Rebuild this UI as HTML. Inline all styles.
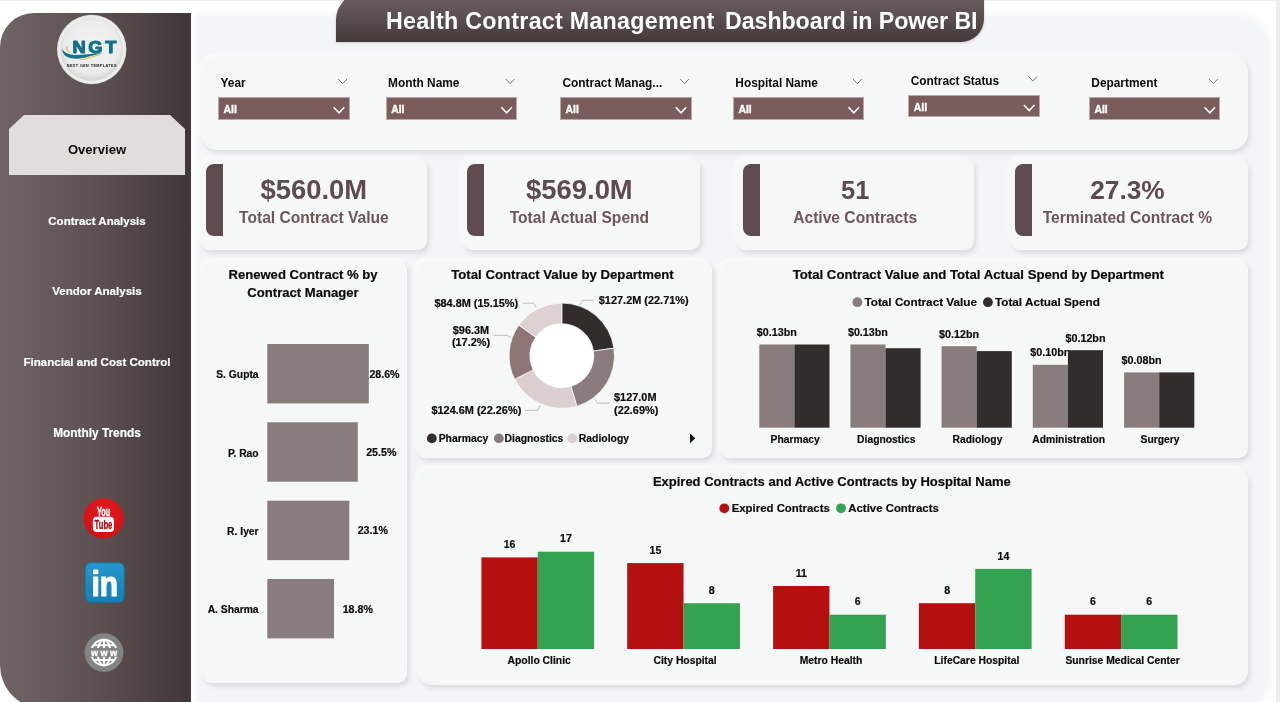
<!DOCTYPE html>
<html lang="en">
<head>
<meta charset="utf-8">
<title>Health Contract Management Dashboard in Power BI</title>
<style>
*{box-sizing:border-box;margin:0;padding:0}
html,body{width:1280px;height:702px;overflow:hidden;background:#fff}
body{font-family:"Liberation Sans",sans-serif;font-weight:bold;color:#1f1c1c;position:relative}
.abs{position:absolute}
#main{left:200px;top:18px;width:1067px;height:692px;background:#f4f5f7;border-top-right-radius:30px;border-bottom-right-radius:34px;box-shadow:0 0 6px 4px #f4f5f7}
#side{left:0;top:13px;width:191.4px;height:696px;background:linear-gradient(90deg,#6f6363 0%,#5e5151 48%,#403637 100%);border-top-left-radius:34px;border-bottom-left-radius:44px}
#tab{left:9px;top:115px;width:176px;height:60px;background:#e1dddd;clip-path:polygon(15px 0,161px 0,176px 14px,176px 60px,0 60px,0 14px)}
.nav{left:0;width:194px;text-align:center;color:#fff;font-size:11.55px;line-height:14px;white-space:nowrap;-webkit-text-stroke:0.2px #fff}
#banner{left:336px;top:-8px;width:648px;height:49.5px;background:linear-gradient(180deg,#6f6161 0%,#5c4f4f 50%,#433839 100%);border-top-left-radius:28px;border-bottom-right-radius:23px;box-shadow:0 1px 3px rgba(0,0,0,.18)}
#banner h1{position:absolute;left:49.9px;top:15.2px;font-size:23.25px;line-height:28px;color:#fff;white-space:pre;font-weight:bold}
.panel{background:#f6f7f7;box-shadow:2px 3px 5px rgba(70,70,80,.15),-2px -2px 4px rgba(255,255,255,.8)}
.kpi{top:159px;height:90.5px;border-radius:9px}
.kpi i{position:absolute;left:4.6px;top:5.3px;width:17.6px;height:72px;background:#5d4b50;border-radius:8px 0 0 8px}
.kpi b{position:absolute;left:0;width:100%;text-align:center;color:#5d4b50;white-space:nowrap}
.kpi .v{top:16.3px;font-size:27.4px;line-height:30px}
.kpi .l{top:48.5px;font-size:15.6px;line-height:20px;color:#6e5657}
.flt label{position:absolute;font-size:11.9px;line-height:14px;color:#0b0a0a;white-space:nowrap}
.dd{position:absolute;width:131.6px;height:22.3px;background:#7b5c5d;border:1px solid #b9aaaa;color:#fff;font-size:10.4px;line-height:24.4px;padding-left:4.6px;-webkit-text-stroke:0.35px #fff}
svg text{font-family:"Liberation Sans",sans-serif;font-weight:bold}
svg .t{stroke:#0b0a0a;stroke-width:0.18px}
</style>
</head>
<body>

<div id="main" class="abs"></div>
<div class="abs" style="left:1276px;top:0;width:4px;height:702px;background:#ededed"></div>
<div class="abs" style="left:0;top:0;width:1280px;height:1px;background:#eeeeee"></div>
<div id="side" class="abs"></div>
<div id="tab" class="abs"></div>
<div class="abs" style="left:0;top:142px;width:194px;text-align:center;font-size:13.1px;line-height:16px;color:#0d0c0c">Overview</div>
<div class="abs nav" style="top:213.8px;font-size:11.5px">Contract Analysis</div>
<div class="abs nav" style="top:283.8px;font-size:11.55px">Vendor Analysis</div>
<div class="abs nav" style="top:355.0px;font-size:11.57px">Financial and Cost Control</div>
<div class="abs nav" style="top:425.9px;font-size:11.87px">Monthly Trends</div>
<div id="banner" class="abs"><h1><span style="letter-spacing:0.27px">Health Contract Management&nbsp; </span><span style="letter-spacing:-0.1px;margin-left:-3px">Dashboard in Power BI</span></h1></div>
<div class="abs panel flt" style="left:201px;top:55.7px;width:1046.5px;height:94.1px;border-radius:17px">
<label style="left:19.5px;top:20.6px">Year</label>
<div class="dd" style="left:17.0px;top:41.7px">All</div>
<label style="left:187.1px;top:20.6px">Month Name</label>
<div class="dd" style="left:184.6px;top:41.7px">All</div>
<label style="left:361.5px;top:20.6px">Contract Manag...</label>
<div class="dd" style="left:359.0px;top:41.7px">All</div>
<label style="left:534.3px;top:20.6px">Hospital Name</label>
<div class="dd" style="left:531.8px;top:41.7px">All</div>
<label style="left:709.7px;top:18.0px">Contract Status</label>
<div class="dd" style="left:707.2px;top:39.5px">All</div>
<label style="left:890.3px;top:20.6px">Department</label>
<div class="dd" style="left:887.8px;top:41.7px">All</div>
</div>
<div class="abs panel kpi" style="left:201.2px;width:225.4px"><i style="left:4.6px"></i><b class="v" style="font-size:27.4px;left:0px">$560.0M</b><b class="l" style="left:0px">Total Contract Value</b></div>
<div class="abs panel kpi" style="left:463.2px;width:237px"><i style="left:3.5px"></i><b class="v" style="font-size:27.4px;left:-2.3px">$569.0M</b><b class="l" style="left:-2.3px">Total Actual Spend</b></div>
<div class="abs panel kpi" style="left:737.3px;width:236.6px"><i style="left:5.5px"></i><b class="v" style="font-size:25.5px;left:-0.4px">51</b><b class="l" style="left:-0.4px">Active Contracts</b></div>
<div class="abs panel kpi" style="left:1011.2px;width:236.6px"><i style="left:3.4px"></i><b class="v" style="font-size:26.3px;left:-2px">27.3%</b><b class="l" style="left:-2px">Terminated Contract %</b></div>
<div class="abs panel" style="left:202.5px;top:260.5px;width:204.7px;height:422.5px;border-radius:9px"></div>
<div class="abs panel" style="left:416.5px;top:260.8px;width:295.3px;height:197.6px;border-radius:9px"></div>
<div class="abs panel" style="left:721px;top:260.8px;width:526.6px;height:197.6px;border-radius:9px"></div>
<div class="abs panel" style="left:417.8px;top:467.6px;width:829.8px;height:217.2px;border-radius:14px"></div>
<svg class="abs" style="left:0;top:0" width="1280" height="702" viewBox="0 0 1280 702">
<defs>
<radialGradient id="lg" cx="50%" cy="45%" r="55%"><stop offset="0" stop-color="#f4f4f4"/><stop offset="0.8" stop-color="#ebebeb"/><stop offset="1" stop-color="#d4d4d4"/></radialGradient>
<linearGradient id="li" x1="0" y1="0" x2="0" y2="1"><stop offset="0" stop-color="#2497cf"/><stop offset="1" stop-color="#157fb3"/></linearGradient>
<radialGradient id="yt" cx="50%" cy="35%" r="70%"><stop offset="0" stop-color="#e41a1f"/><stop offset="1" stop-color="#d20f14"/></radialGradient>
</defs>
<circle cx="91.7" cy="49.5" r="34.7" fill="#e2e2e2"/>
<circle cx="91.7" cy="49.5" r="33.6" fill="#efefef"/>
<circle cx="91.7" cy="49.5" r="31.2" fill="url(#lg)" stroke="#dcdcdc" stroke-width="0.7"/>
<path d="M62.3 48.6 C63.6 52.2 67.5 54.6 73.5 54.9 C82 55.3 92 53 103.6 53.2 C95.5 54 88.5 57.4 79.5 58.6 C69.5 59.8 62 56.4 62.3 48.6Z" fill="#12758a"/>
<path d="M66.4 46 C65.2 49.4 67.6 52.4 71.6 53.6 C68.8 51.6 67 49.2 67.4 46.2Z" fill="#e3b75c"/>
<path d="M79 60 C87 59.6 93.5 56.4 100.6 54.6 C93.8 55.6 87.4 58.8 79 60Z" fill="#e3b75c" stroke="#e3b75c" stroke-width="0.5"/>
<text transform="scale(1.1,1)" x="65.9 80.3 95.7" y="52.6" font-size="16.6" fill="#12718a" stroke="#12718a" stroke-width="1.1" stroke-linejoin="round">NGT</text>
<text x="91.8" y="66.7" font-size="3.7" text-anchor="middle" fill="#111" letter-spacing="0.45">NEXT GEN TEMPLATES</text>
<path d="M338.2 79.0 L342.6 83.6 L347.0 79.0" fill="none" stroke="#7a7a7a" stroke-width="1"/>
<path d="M333.7 107.2 L339.0 112.8 L344.3 107.2" fill="none" stroke="#fff" stroke-width="1.5"/>
<path d="M505.8 79.0 L510.2 83.6 L514.6 79.0" fill="none" stroke="#7a7a7a" stroke-width="1"/>
<path d="M501.3 107.2 L506.6 112.8 L511.9 107.2" fill="none" stroke="#fff" stroke-width="1.5"/>
<path d="M680.2 79.0 L684.6 83.6 L689.0 79.0" fill="none" stroke="#7a7a7a" stroke-width="1"/>
<path d="M675.7 107.2 L681.0 112.8 L686.3 107.2" fill="none" stroke="#fff" stroke-width="1.5"/>
<path d="M853.0 79.0 L857.4 83.6 L861.8 79.0" fill="none" stroke="#7a7a7a" stroke-width="1"/>
<path d="M848.5 107.2 L853.8 112.8 L859.1 107.2" fill="none" stroke="#fff" stroke-width="1.5"/>
<path d="M1028.4 76.4 L1032.8 81.0 L1037.2 76.4" fill="none" stroke="#7a7a7a" stroke-width="1"/>
<path d="M1023.9 105.0 L1029.2 110.6 L1034.5 105.0" fill="none" stroke="#fff" stroke-width="1.5"/>
<path d="M1209.0 79.0 L1213.4 83.6 L1217.8 79.0" fill="none" stroke="#7a7a7a" stroke-width="1"/>
<path d="M1204.5 107.2 L1209.8 112.8 L1215.1 107.2" fill="none" stroke="#fff" stroke-width="1.5"/>
<text class="t" x="303.0" y="279.0" font-size="13.1" text-anchor="middle" fill="#0b0a0a" >Renewed Contract % by</text>
<text class="t" x="303.0" y="296.5" font-size="13.1" text-anchor="middle" fill="#0b0a0a" >Contract Manager</text>
<rect x="267.3" y="344" width="101.5" height="59.4" fill="#897c7c"/>
<text class="t" x="258.6" y="378.2" font-size="10.3" text-anchor="end" fill="#0b0a0a" >S. Gupta</text>
<text class="t" x="369.4" y="377.6" font-size="10.65" text-anchor="start" fill="#0b0a0a" >28.6%</text>
<rect x="267.3" y="422.3" width="90.5" height="59.4" fill="#897c7c"/>
<text class="t" x="258.6" y="456.5" font-size="10.3" text-anchor="end" fill="#0b0a0a" >P. Rao</text>
<text class="t" x="366.2" y="455.9" font-size="10.65" text-anchor="start" fill="#0b0a0a" >25.5%</text>
<rect x="267.3" y="500.7" width="82.0" height="59.4" fill="#897c7c"/>
<text class="t" x="258.6" y="534.9" font-size="10.3" text-anchor="end" fill="#0b0a0a" >R. Iyer</text>
<text class="t" x="357.7" y="534.3" font-size="10.65" text-anchor="start" fill="#0b0a0a" >23.1%</text>
<rect x="267.3" y="579" width="66.7" height="59.4" fill="#897c7c"/>
<text class="t" x="258.6" y="613.2" font-size="10.3" text-anchor="end" fill="#0b0a0a" >A. Sharma</text>
<text class="t" x="342.7" y="612.6" font-size="10.65" text-anchor="start" fill="#0b0a0a" >18.8%</text>
<text class="t" x="562.5" y="278.8" font-size="13.2" text-anchor="middle" fill="#0b0a0a" >Total Contract Value by Department</text>
<circle cx="561.8" cy="355.7" r="52.7" fill="#fff"/>
<path d="M561.80 303.00 A52.7 52.7 0 0 1 613.95 348.14 L593.47 351.11 A32 32 0 0 0 561.80 323.70Z" fill="#322d2d" stroke="#fff" stroke-width="0.7"/>
<path d="M613.95 348.14 A52.7 52.7 0 0 1 576.83 406.21 L570.93 386.37 A32 32 0 0 0 593.47 351.11Z" fill="#8a7c7c" stroke="#fff" stroke-width="0.7"/>
<path d="M576.83 406.21 A52.7 52.7 0 0 1 514.62 379.17 L533.15 369.95 A32 32 0 0 0 570.93 386.37Z" fill="#dccfcf" stroke="#fff" stroke-width="0.7"/>
<path d="M514.62 379.17 A52.7 52.7 0 0 1 518.88 325.12 L535.74 337.13 A32 32 0 0 0 533.15 369.95Z" fill="#8e7677" stroke="#fff" stroke-width="0.7"/>
<path d="M518.88 325.12 A52.7 52.7 0 0 1 561.80 303.00 L561.80 323.70 A32 32 0 0 0 535.74 337.13Z" fill="#ddd1d1" stroke="#fff" stroke-width="0.7"/>
<path d="M579.8 305 L582.5 300.3 L593.6 300.3" fill="none" stroke="#bcbcbc" stroke-width="1"/>
<path d="M594.2 398.5 L597.6 403.1 L609.6 403.1" fill="none" stroke="#bcbcbc" stroke-width="1"/>
<path d="M540 405.2 L537.8 410.4 L525 410.4" fill="none" stroke="#bcbcbc" stroke-width="1"/>
<path d="M511 337.5 L507 335.3 L493.5 335.3" fill="none" stroke="#bcbcbc" stroke-width="1"/>
<path d="M536.6 307.5 L533.3 303.2 L522.4 303.2" fill="none" stroke="#bcbcbc" stroke-width="1"/>
<text class="t" x="598.8" y="304.3" font-size="10.93" text-anchor="start" fill="#0b0a0a" >$127.2M (22.71%)</text>
<text class="t" x="614.0" y="400.8" font-size="10.93" text-anchor="start" fill="#0b0a0a" >$127.0M</text>
<text class="t" x="614.0" y="413.9" font-size="10.93" text-anchor="start" fill="#0b0a0a" >(22.69%)</text>
<text class="t" x="521.3" y="414.4" font-size="10.93" text-anchor="end" fill="#0b0a0a" >$124.6M (22.26%)</text>
<text class="t" x="471.0" y="333.6" font-size="10.93" text-anchor="middle" fill="#0b0a0a" >$96.3M</text>
<text class="t" x="471.0" y="346.4" font-size="10.93" text-anchor="middle" fill="#0b0a0a" >(17.2%)</text>
<text class="t" x="518.2" y="307.2" font-size="10.93" text-anchor="end" fill="#0b0a0a" >$84.8M (15.15%)</text>
<circle cx="431.8" cy="438.4" r="4.9" fill="#322d2d"/>
<text class="t" x="438.7" y="441.8" font-size="10.4" text-anchor="start" fill="#0b0a0a" >Pharmacy</text>
<circle cx="498.9" cy="438.4" r="4.9" fill="#8a7c7c"/>
<text class="t" x="504.5" y="441.8" font-size="10.4" text-anchor="start" fill="#0b0a0a" >Diagnostics</text>
<circle cx="572.2" cy="438.4" r="4.9" fill="#dccfcf"/>
<text class="t" x="578.8" y="441.8" font-size="10.4" text-anchor="start" fill="#0b0a0a" >Radiology</text>
<path d="M690 433.4 L695.3 438.3 L690 443.2Z" fill="#151313"/>
<text class="t" x="978.3" y="278.8" font-size="13.2" text-anchor="middle" fill="#0b0a0a" >Total Contract Value and Total Actual Spend by Department</text>
<circle cx="857.4" cy="302.2" r="4.9" fill="#897c7c"/>
<text class="t" x="864.5" y="306.2" font-size="11.72" text-anchor="start" fill="#0b0a0a" >Total Contract Value</text>
<circle cx="987.9" cy="302.2" r="4.9" fill="#322d2d"/>
<text class="t" x="995.0" y="306.2" font-size="11.72" text-anchor="start" fill="#0b0a0a" >Total Actual Spend</text>
<text class="t" x="776.8" y="336.1" font-size="10.74" text-anchor="middle" fill="#0b0a0a" >$0.13bn</text>
<rect x="759.3" y="344.5" width="35.1" height="83.2" fill="#897c7c"/>
<rect x="794.4" y="344.5" width="35.1" height="83.2" fill="#322d2d"/>
<text class="t" x="795.2" y="443.0" font-size="10.3" text-anchor="middle" fill="#0b0a0a" >Pharmacy</text>
<text class="t" x="867.9" y="336.1" font-size="10.74" text-anchor="middle" fill="#0b0a0a" >$0.13bn</text>
<rect x="850.4" y="344.5" width="35.1" height="83.2" fill="#897c7c"/>
<rect x="885.5" y="348.2" width="35.1" height="79.5" fill="#322d2d"/>
<text class="t" x="886.3" y="443.0" font-size="10.3" text-anchor="middle" fill="#0b0a0a" >Diagnostics</text>
<text class="t" x="959.1" y="337.8" font-size="10.74" text-anchor="middle" fill="#0b0a0a" >$0.12bn</text>
<rect x="941.6" y="346.2" width="35.1" height="81.5" fill="#897c7c"/>
<rect x="976.7" y="351.1" width="35.1" height="76.6" fill="#322d2d"/>
<text class="t" x="977.5" y="443.0" font-size="10.3" text-anchor="middle" fill="#0b0a0a" >Radiology</text>
<text class="t" x="1050.3" y="356.4" font-size="10.74" text-anchor="middle" fill="#0b0a0a" >$0.10bn</text>
<rect x="1032.8" y="364.8" width="35.1" height="62.9" fill="#897c7c"/>
<rect x="1067.8999999999999" y="350.2" width="35.1" height="77.5" fill="#322d2d"/>
<text class="t" x="1085.5" y="341.6" font-size="10.74" text-anchor="middle" fill="#0b0a0a" >$0.12bn</text>
<text class="t" x="1068.7" y="443.0" font-size="10.3" text-anchor="middle" fill="#0b0a0a" >Administration</text>
<text class="t" x="1141.6" y="364.0" font-size="10.74" text-anchor="middle" fill="#0b0a0a" >$0.08bn</text>
<rect x="1124.1" y="372.4" width="35.1" height="55.3" fill="#897c7c"/>
<rect x="1159.1999999999998" y="372.4" width="35.1" height="55.3" fill="#322d2d"/>
<text class="t" x="1160.0" y="443.0" font-size="10.3" text-anchor="middle" fill="#0b0a0a" >Surgery</text>
<text class="t" x="831.8" y="486.3" font-size="13.0" text-anchor="middle" fill="#0b0a0a" >Expired Contracts and Active Contracts by Hospital Name</text>
<circle cx="724.3" cy="508.3" r="4.9" fill="#b51010"/>
<text class="t" x="731.7" y="512.3" font-size="11.4" text-anchor="start" fill="#0b0a0a" >Expired Contracts</text>
<circle cx="841" cy="508.3" r="4.9" fill="#33a351"/>
<text class="t" x="848.3" y="512.3" font-size="11.4" text-anchor="start" fill="#0b0a0a" >Active Contracts</text>
<rect x="481.4" y="557.4" width="56.35" height="91.6" fill="#b51010"/>
<rect x="537.75" y="551.7" width="56.35" height="97.3" fill="#33a351"/>
<text class="t" x="509.6" y="548.1" font-size="10.6" text-anchor="middle" fill="#0b0a0a" >16</text>
<text class="t" x="565.9" y="542.4" font-size="10.6" text-anchor="middle" fill="#0b0a0a" >17</text>
<text class="t" x="539.2" y="664.0" font-size="10.35" text-anchor="middle" fill="#0b0a0a" >Apollo Clinic</text>
<rect x="627.2" y="563.1" width="56.35" height="85.9" fill="#b51010"/>
<rect x="683.5500000000001" y="603.2" width="56.35" height="45.8" fill="#33a351"/>
<text class="t" x="655.4" y="553.8" font-size="10.6" text-anchor="middle" fill="#0b0a0a" >15</text>
<text class="t" x="711.7" y="593.9" font-size="10.6" text-anchor="middle" fill="#0b0a0a" >8</text>
<text class="t" x="685.1" y="664.0" font-size="10.35" text-anchor="middle" fill="#0b0a0a" >City Hospital</text>
<rect x="773.1" y="586.0" width="56.35" height="63.0" fill="#b51010"/>
<rect x="829.45" y="614.7" width="56.35" height="34.3" fill="#33a351"/>
<text class="t" x="801.3" y="576.7" font-size="10.6" text-anchor="middle" fill="#0b0a0a" >11</text>
<text class="t" x="857.6" y="605.4" font-size="10.6" text-anchor="middle" fill="#0b0a0a" >6</text>
<text class="t" x="831.0" y="664.0" font-size="10.35" text-anchor="middle" fill="#0b0a0a" >Metro Health</text>
<rect x="918.9" y="603.2" width="56.35" height="45.8" fill="#b51010"/>
<rect x="975.25" y="568.9" width="56.35" height="80.1" fill="#33a351"/>
<text class="t" x="947.1" y="593.9" font-size="10.6" text-anchor="middle" fill="#0b0a0a" >8</text>
<text class="t" x="1003.4" y="559.6" font-size="10.6" text-anchor="middle" fill="#0b0a0a" >14</text>
<text class="t" x="976.8" y="664.0" font-size="10.35" text-anchor="middle" fill="#0b0a0a" >LifeCare Hospital</text>
<rect x="1064.8" y="614.7" width="56.35" height="34.3" fill="#b51010"/>
<rect x="1121.1499999999999" y="614.7" width="56.35" height="34.3" fill="#33a351"/>
<text class="t" x="1093.0" y="605.4" font-size="10.6" text-anchor="middle" fill="#0b0a0a" >6</text>
<text class="t" x="1149.3" y="605.4" font-size="10.6" text-anchor="middle" fill="#0b0a0a" >6</text>
<text class="t" x="1122.6" y="664.0" font-size="10.35" text-anchor="middle" fill="#0b0a0a" >Sunrise Medical Center</text>
<circle cx="103.7" cy="518.4" r="20.1" fill="url(#yt)"/>
<text x="103.6" y="515.7" font-size="13.4" text-anchor="middle" fill="#fff" stroke="#fff" stroke-width="0.45" textLength="13.4" lengthAdjust="spacingAndGlyphs">You</text>
<rect x="92.9" y="516.7" width="21.1" height="15.2" rx="4" fill="#fff"/>
<text x="103.5" y="529.3" font-size="13.4" text-anchor="middle" fill="#a5121b" stroke="#a5121b" stroke-width="0.4" textLength="17.8" lengthAdjust="spacingAndGlyphs">Tube</text>
<rect x="85.2" y="562.8" width="39.1" height="39.6" rx="5.5" fill="url(#li)" stroke="#16709c" stroke-width="0.8"/>
<text x="104.8" y="596.1" font-size="34.5" text-anchor="middle" fill="#fff" stroke="#fff" stroke-width="1.2" stroke-linejoin="round" textLength="26.6" lengthAdjust="spacingAndGlyphs">in</text>
<circle cx="104" cy="652.6" r="19.4" fill="#848484"/>
<g fill="none" stroke="#fff" stroke-width="2"><circle cx="104" cy="652.6" r="12.8"/><ellipse cx="104" cy="652.6" rx="6.4" ry="12.8"/><path d="M104 639.8000000000001V665.4M93.4 645.2H114.6M93.4 660.0H114.6"/></g>
<rect x="89" y="648.0" width="30" height="8.8" fill="#848484"/>
<text x="105.2" y="655.6" font-size="9.2" text-anchor="middle" fill="#fff" stroke="#fff" stroke-width="0.3" letter-spacing="2.3">www</text>
</svg>
</body></html>
